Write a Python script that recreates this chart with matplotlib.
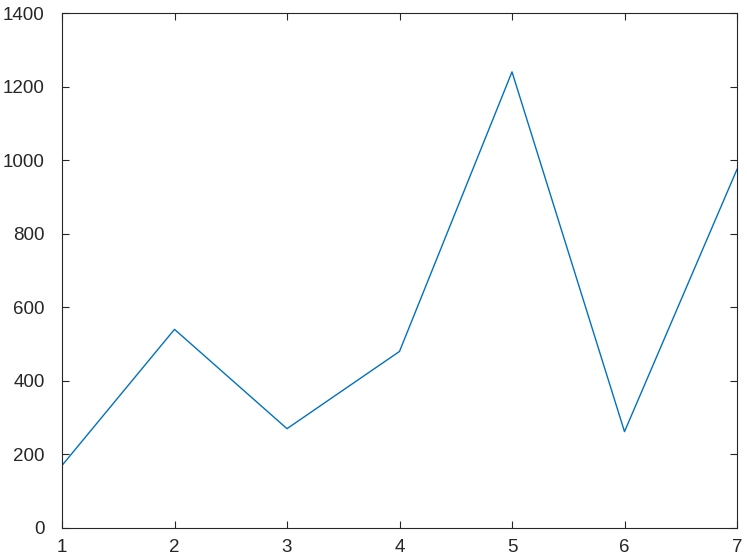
import matplotlib
matplotlib.use("Agg")
import matplotlib.pyplot as plt

# values
x = [1, 2, 3, 4, 5, 6, 7]
y = [170, 540, 270, 480, 1240, 262, 975]

plt.rcParams['font.family'] = ['Liberation Sans', 'DejaVu Sans']

fig = plt.figure(figsize=(7.47, 5.6), dpi=100)
ax = fig.add_axes([62 / 747, 1 - 528 / 560, (737 - 62) / 747, (528 - 13) / 560])
ax.plot(x, y, color='#0072bd', linewidth=1.0)

ax.set_xlim(1, 7)
ax.set_ylim(0, 1400)
ax.set_xticks(range(1, 8))
ax.set_yticks(range(0, 1401, 200))
ax.tick_params(direction='in', top=True, right=True, length=5, width=0.8,
               labelsize=13.5, colors='#262626')
ax.tick_params(axis='y', pad=12.5)
ax.tick_params(axis='x', pad=8)
for s in ax.spines.values():
    s.set_color('#262626')
    s.set_linewidth(0.8)

fig.savefig('out.png', dpi=100)
